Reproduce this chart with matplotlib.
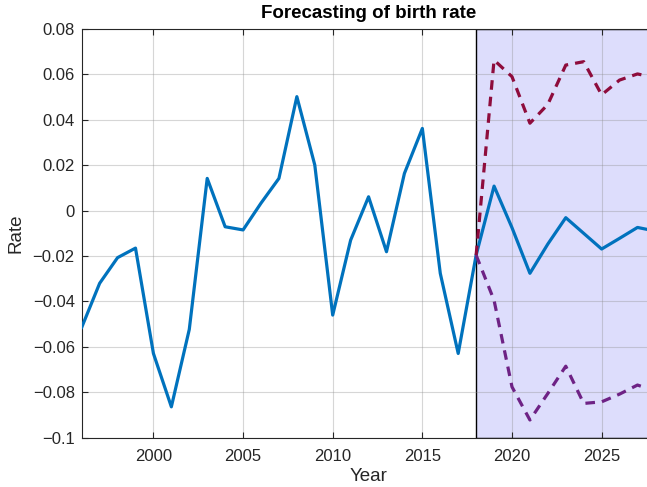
import numpy as np
import matplotlib
matplotlib.use("Agg")
import matplotlib.pyplot as plt

plt.rcParams['font.family'] = ['Liberation Sans', 'DejaVu Sans']

# observed / forecast rate (one continuous series)
years = np.arange(1996, 2029)
rate = [-0.0514, -0.032, -0.0207, -0.0165, -0.0629, -0.0864, -0.0523, 0.0142,
        -0.0071, -0.0085, 0.0033, 0.0142, 0.0502, 0.0201, -0.046, -0.013,
        0.0061, -0.0181, 0.0164, 0.0362, -0.0276, -0.0629, -0.0196,
        0.0108, -0.0075, -0.0276, -0.0147, -0.0031, -0.010, -0.0169,
        -0.0122, -0.0074, -0.009]

# forecast bounds
fc_years = np.arange(2018, 2029)
upper = [-0.0196, 0.0663, 0.059, 0.0385, 0.0468, 0.0641, 0.0656, 0.051,
         0.0575, 0.0602, 0.0585]
lower = [-0.0196, -0.0395, -0.0776, -0.0922, -0.0805, -0.0685, -0.0849,
         -0.0842, -0.0808, -0.0768, -0.0795]

fig = plt.figure(figsize=(6.47, 4.87), dpi=100)
ax = fig.add_axes([0.1263, 0.1012, 0.8867, 0.8393])

ax.axvspan(2018, 2028, facecolor='#DDDDFC', edgecolor='black', linewidth=1.0, zorder=1)

ax.plot(years, rate, color='#0072BD', linewidth=2.3, zorder=3)
ax.plot(fc_years, upper, color='#8E0C3C', linewidth=2.3, linestyle=(0, (3, 2.2)), zorder=3)
ax.plot(fc_years, lower, color='#6E2285', linewidth=2.3, linestyle=(0, (3, 2.2)), zorder=3)

ax.set_xlim(1996, 2028)
ax.set_ylim(-0.1, 0.08)
ax.set_xticks([2000, 2005, 2010, 2015, 2020, 2025])
ax.set_yticks(np.arange(-0.1, 0.081, 0.02))
ax.set_yticklabels(['\u22120.1', '\u22120.08', '\u22120.06', '\u22120.04', '\u22120.02',
                    '0', '0.02', '0.04', '0.06', '0.08'])

ax.grid(True, color='#8C8C8C', alpha=0.35, linewidth=0.8)
ax.tick_params(direction='in', top=True, right=True, labelsize=12,
               colors='#262626', length=4, width=0.8)
ax.tick_params(axis='x', pad=8)
ax.tick_params(axis='y', pad=5)
for s in ax.spines.values():
    s.set_color('#262626')
    s.set_linewidth(0.8)

ax.set_xlabel('Year', fontsize=13.5, color='#262626', labelpad=3)
ax.set_ylabel('Rate', fontsize=13.5, color='#262626', labelpad=6)
fig.text(0.569, 0.972, 'Forecasting of birth rate', fontsize=13.5, fontweight='bold',
         ha='center', va='center')

fig.savefig('out.png', dpi=100)
